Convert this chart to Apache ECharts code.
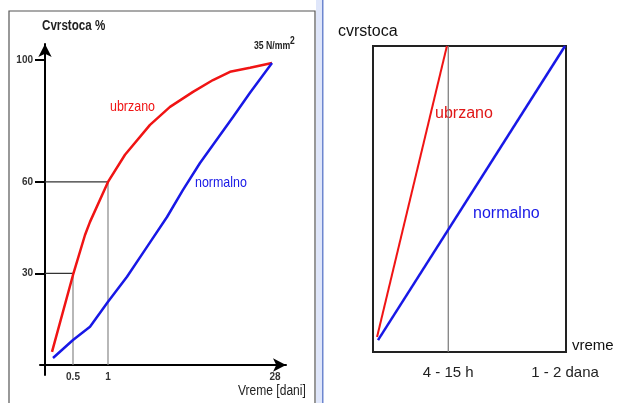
<!DOCTYPE html>
<html>
<head>
<meta charset="utf-8">
<script src="https://cdn.jsdelivr.net/npm/echarts@6/dist/echarts.min.js"></script>
<style>
  html, body { margin: 0; padding: 0; background: #fff; }
  #chart { width: 627px; height: 403px; }
</style>
</head>
<body>
<div id="chart"></div>
<script>
// lijevi dijagram: x u jedinicama sheme (nije linearno u danima)
var xTickPos = [28, 63, 230];
var xTickLabels = ['0.5', '1', '28'];
var yTicks = [30, 60, 100];

// ubrzano ocvrscavanje
var fastX = [7, 28, 40, 45, 63, 80, 105, 125, 148, 168, 185, 205, 227];
var fastY = [4.3, 29.5, 42.6, 46.9, 60, 68.9, 78.7, 84.6, 89.5, 93.4, 96.1, 97.4, 99];
// normalno ocvrscavanje
var normX = [8, 28, 45, 63, 82, 102, 122, 138, 155, 188, 205, 227];
var normY = [2.3, 8.2, 12.5, 20.7, 28.9, 38.7, 48.5, 57.4, 66.2, 81.3, 89.2, 99];

// pomocne linije (0.5 dana -> 30 %, 1 dan -> 60 %)
var guideX = [28, 63];
var guideY = [30, 60];

// desni dijagram
var rightTickPos = [39, 99.5];
var rightTickLabels = ['4 - 15 h', '1 - 2 dana'];
var fastRX = [2.1, 38.3];
var fastRY = [4.9, 100];
var normRX = [2.6, 99.5];
var normRY = [3.9, 100];

function pairs(xs, ys) {
  return xs.map(function (x, i) { return [x, ys[i]]; });
}

var arial = '"Liberation Sans", Arial, sans-serif';
var RED = '#f01414';
var BLUE = '#1818e6';

var series = [
  {
    name: 'ubrzano', type: 'line', xAxisIndex: 0, yAxisIndex: 0,
    data: pairs(fastX, fastY), smooth: false, symbol: 'none',
    lineStyle: { color: RED, width: 2.5 }, z: 5
  },
  {
    name: 'normalno', type: 'line', xAxisIndex: 0, yAxisIndex: 0,
    data: pairs(normX, normY), smooth: false, symbol: 'none',
    lineStyle: { color: BLUE, width: 2.5 }, z: 5
  }
];

guideX.forEach(function (gx, i) {
  series.push({
    type: 'line', xAxisIndex: 0, yAxisIndex: 0, symbol: 'none',
    data: [[0, guideY[i]], [gx, guideY[i]]],
    lineStyle: { color: '#333', width: 1.2 }, z: 3
  });
  series.push({
    type: 'line', xAxisIndex: 0, yAxisIndex: 0, symbol: 'none',
    data: [[gx, guideY[i]], [gx, 0]],
    lineStyle: { color: '#888', width: 1.2 }, z: 3
  });
});

series.push({
  type: 'line', xAxisIndex: 1, yAxisIndex: 1, symbol: 'none',
  data: [[rightTickPos[0], 0], [rightTickPos[0], 100]],
  lineStyle: { color: '#777', width: 1.2 }, z: 3
});
series.push({
  name: 'ubrzano', type: 'line', xAxisIndex: 1, yAxisIndex: 1, symbol: 'none',
  data: pairs(fastRX, fastRY), lineStyle: { color: RED, width: 2 }, z: 5
});
series.push({
  name: 'normalno', type: 'line', xAxisIndex: 1, yAxisIndex: 1, symbol: 'none',
  data: pairs(normRX, normRY), lineStyle: { color: BLUE, width: 2.5 }, z: 5
});

// tekst uzi od obicnog Ariala (u originalu je "narrow" font)
function label(txt, x, y, size, color, sx, bold) {
  return {
    type: 'text', x: x, y: y, scaleX: sx,
    style: { text: txt, font: (bold ? 'bold ' : '') + size + 'px ' + arial,
      fill: color, verticalAlign: 'middle' }
  };
}

var option = {
  animation: false,
  backgroundColor: '#fff',
  grid: [
    { left: 40, right: 341, top: 44, bottom: 28 },
    { left: 373, top: 46, width: 193, height: 306, show: true,
      borderColor: '#222', borderWidth: 2, backgroundColor: 'transparent' }
  ],
  xAxis: [
    {
      type: 'value', gridIndex: 0, min: -5, max: 241,
      splitLine: { show: false },
      axisLine: { lineStyle: { color: '#000', width: 2 },
        symbol: ['none', 'arrow'], symbolSize: [10, 13] },
      axisTick: { show: false },
      axisLabel: { customValues: xTickPos, margin: -3, color: '#333',
        fontFamily: arial, fontSize: 10, fontWeight: 'bold',
        formatter: function (v) { return xTickLabels[xTickPos.indexOf(v)]; } }
    },
    {
      type: 'value', gridIndex: 1, min: 0, max: 100,
      splitLine: { show: false },
      axisLine: { show: false },
      axisTick: { show: false },
      axisLabel: { customValues: rightTickPos, margin: 13, color: '#222',
        fontFamily: arial, fontSize: 15,
        formatter: function (v) { return rightTickLabels[rightTickPos.indexOf(v)]; } }
    }
  ],
  yAxis: [
    {
      type: 'value', gridIndex: 0, min: -3.28, max: 105.2,
      splitLine: { show: false },
      axisLine: { lineStyle: { color: '#000', width: 2 },
        symbol: ['none', 'arrow'], symbolSize: [10, 13] },
      axisTick: { customValues: yTicks, length: 10, lineStyle: { color: '#000', width: 2 } },
      axisLabel: { customValues: yTicks, margin: 7, color: '#333',
        fontFamily: arial, fontSize: 10, fontWeight: 'bold' }
    },
    {
      type: 'value', gridIndex: 1, min: 0, max: 100,
      splitLine: { show: false }, axisLine: { show: false },
      axisTick: { show: false }, axisLabel: { show: false }
    }
  ],
  series: series,
  graphic: [
    { type: 'rect', z: -1, shape: { x: 9, y: 11, width: 306, height: 400 },
      style: { fill: 'none', stroke: '#555', lineWidth: 1.2 } },
    { type: 'rect', z: -1, shape: { x: 316, y: 0, width: 6, height: 403 },
      style: { fill: '#dfe6fa' } },
    { type: 'rect', z: -1, shape: { x: 322, y: 0, width: 1.5, height: 403 },
      style: { fill: '#6d86cf' } },
    label('Cvrstoca %', 42, 26, 14, '#222', 0.83, true),
    label('35 N/mm', 254, 46, 11, '#222', 0.79, true),
    label('2', 290, 41, 10, '#222', 0.85, true),
    label('ubrzano', 110, 107, 15, RED, 0.83, false),
    label('normalno', 195, 183, 15, BLUE, 0.83, false),
    label('Vreme [dani]', 238, 391, 14, '#222', 0.86, false),
    label('cvrstoca', 338, 32, 16, '#111', 1, false),
    label('ubrzano', 435, 114, 16, '#e01818', 1, false),
    label('normalno', 473, 214, 16, BLUE, 1, false),
    label('vreme', 572, 346, 15, '#111', 1, false)
  ]
};

var chart = echarts.init(document.getElementById('chart'), null, { renderer: 'canvas' });
chart.setOption(option);
</script>
</body>
</html>
